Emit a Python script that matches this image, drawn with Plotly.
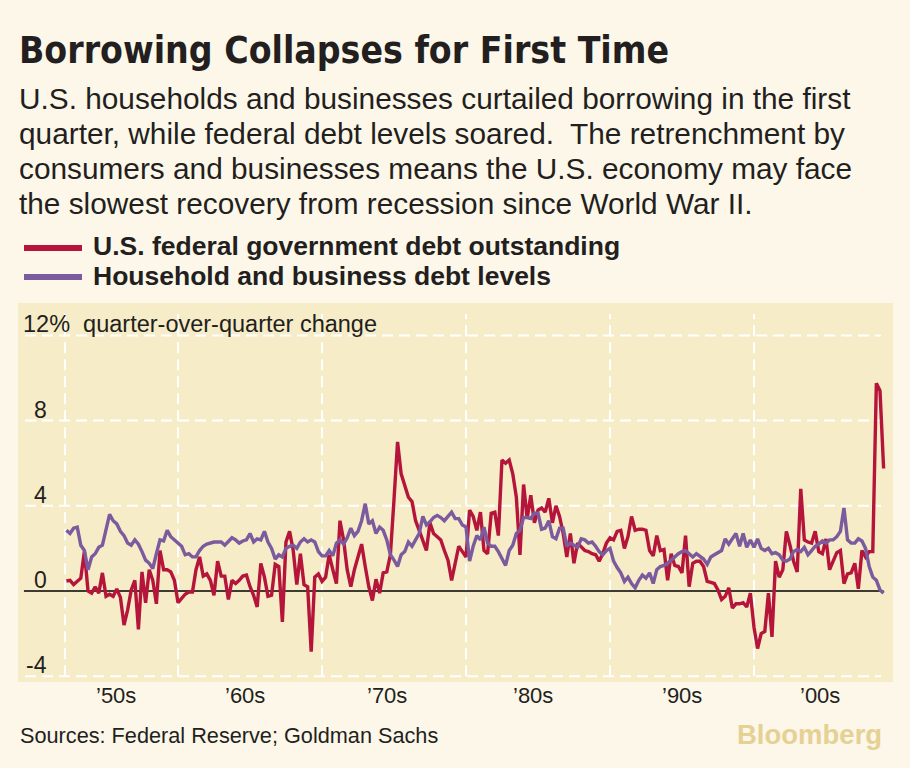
import pandas as pd
import plotly.graph_objects as go

# quarter-over-quarter % change, 1952Q2 .. 2009Q1
quarters = pd.period_range("1952Q2", "2009Q1", freq="Q").to_timestamp()

federal_debt = [
    0.47, 0.5, 0.3, 0.45, 0.6, 1.85, 0.0, -0.1, 0.2, -0.1,
    0.85, -0.25, -0.15, -0.25, 0.1, -0.3, -1.6, -0.9, 0.05, 0.5,
    -1.8, 0.9, -0.55, 1.0, 0.5, -0.6, 1.9, 1.0, 1.0, 0.9,
    0.5, -0.55, -0.35, -0.15, -0.05, -0.05, 1.0, 1.6, 0.7, 0.8,
    0.5, -0.2, 1.4, 0.7, 0.7, -0.4, 0.5, 0.35, 0.5, 0.7,
    0.75, 0.2, -0.2, -0.75, 1.3, 0.65, -0.25, -0.2, 1.25, 1.15,
    -1.45, 2.3, 2.8, 1.9, 0.3, 1.75, 0.3, 0.2, -2.85, 0.65,
    0.8, 0.45, 0.65, 1.7, 1.0, 0.35, 3.3, 2.4, 1.0, 0.2,
    1.0, 1.6, 2.2, 1.15, 0.2, -0.45, 0.55, -0.1, 0.85, 0.9,
    1.7, 4.3, 7.0, 5.5, 5.0, 4.4, 4.2, 3.3, 2.85, 2.4,
    1.9, 3.2, 2.7, 2.55, 2.4, 1.9, 1.45, 0.5, 1.3, 2.1,
    1.85, 1.6, 3.8, 3.5, 2.85, 3.7, 1.9, 1.75, 3.65, 3.7,
    2.6, 6.15, 6.0, 6.15, 5.5, 4.4, 1.7, 5.0, 3.4, 4.5,
    3.2, 3.8, 3.9, 3.7, 4.35, 3.2, 4.0, 3.5, 2.7, 1.6,
    2.7, 1.3, 2.25, 2.1, 1.9, 1.85, 1.75, 1.7, 1.4, 1.75,
    2.25, 2.5, 2.4, 2.8, 2.85, 2.0, 2.55, 3.5, 2.85, 2.9,
    2.9, 2.85, 1.9, 1.65, 2.6, 1.9, 1.95, 0.5, 1.75, 1.2,
    1.15, 0.85, 2.6, 0.2, 1.3, 1.4, 1.4, 1.15, 0.45, 0.4,
    0.35, 0.05, -0.4, -0.25, 0.15, -0.8, -0.6, -0.6, -0.55, -0.75,
    -0.1, -1.7, -2.7, -2.0, -1.9, -0.1, -2.15, 1.4, 0.65, 1.0,
    2.8, 2.15, 1.4, 0.9, 4.8, 2.4, 2.3, 2.25, 2.8, 1.85,
    1.75, 2.45, 1.0, 1.4, 1.8, 1.9, 0.35, 0.8, 0.85, 1.3,
    0.1, 1.9, 1.6, 1.85, 1.85, 9.75, 9.4, 5.75,
]

household_business_debt = [
    2.85, 2.7, 2.95, 3.0, 2.15, 1.9, 1.0, 1.6, 1.75, 2.05,
    2.15, 2.85, 3.6, 3.3, 3.15, 2.8, 2.6, 2.25, 2.15, 2.4,
    2.2, 1.85, 1.45, 1.3, 1.05, 1.75, 2.4, 2.35, 2.85, 2.55,
    2.4, 2.25, 2.1, 1.7, 1.75, 1.6, 1.6, 1.9, 2.1, 2.2,
    2.25, 2.3, 2.3, 2.3, 2.15, 2.35, 2.5, 2.4, 2.25, 2.35,
    2.4, 2.7, 2.3, 2.45, 2.4, 2.8, 2.3, 2.0, 1.5, 1.7,
    1.6, 2.0, 2.1, 2.15, 2.0, 2.3, 2.45, 2.3, 2.4, 2.3,
    1.85, 1.65, 1.65, 1.9, 1.65, 2.25, 2.4, 2.2, 2.5, 2.95,
    2.6, 2.8, 3.3, 4.1, 3.15, 3.3, 2.7, 3.0, 2.85, 2.4,
    1.7, 1.45, 1.15, 1.7, 1.85, 2.3, 2.1, 2.4, 2.7, 3.5,
    3.1, 3.25, 3.45, 3.55, 3.45, 3.3, 3.5, 3.7, 3.4, 3.4,
    3.1, 3.0, 1.4, 2.1, 2.6, 2.4, 3.0, 2.25, 2.1, 2.1,
    1.85, 1.55, 1.2, 1.9, 2.15, 2.7, 2.85, 3.45, 3.45, 3.4,
    3.65, 3.65, 2.9, 2.95, 3.3, 2.55, 2.45, 2.95, 2.95, 2.1,
    2.25, 2.15, 2.05, 2.45, 2.4, 2.25, 2.3, 2.1, 1.85, 1.7,
    1.9, 2.0, 1.4, 1.1, 0.85, 0.45, 0.65, 0.35, 0.15, 0.5,
    0.75, 0.6, 0.85, 0.35, 1.0, 1.15, 1.2, 1.3, 1.45, 1.6,
    1.75, 1.85, 1.9, 1.75, 1.6, 1.75, 1.6, 1.5, 1.25, 1.6,
    1.7, 1.8, 1.9, 2.45, 2.2, 2.45, 2.7, 2.1, 2.7, 2.05,
    2.4, 2.05, 2.45, 2.0, 1.9, 2.0, 1.75, 1.8, 1.7, 1.45,
    1.4, 1.5, 1.85, 1.95, 1.85, 2.05, 1.7, 1.9, 2.1, 2.2,
    2.35, 2.25, 2.4, 2.4, 2.55, 2.8, 3.9, 2.4, 2.25, 2.25,
    2.45, 2.35, 2.0, 1.15, 0.65, 0.5, 0.05, -0.1,
]

series_names = ["U.S. federal government debt outstanding",
                "Household and business debt levels"]
y_ticks = [12, 8, 4, 0, -4]
y_tick_text = ["12%", "8", "4", "0", "-4"]
decade_labels = ["\u201950s", "\u201960s", "\u201970s", "\u201980s", "\u201990s", "\u201900s"]
decade_label_pos = [1955.7, 1964.65, 1974.5, 1984.65, 1995.0, 2004.6]

RED = "#B5143B"
PURPLE = "#7B5A9E"
INK = "#231F20"
PAPER = "#FCF7E9"
PLOT_BG = "#F6ECC7"
FONT = "Liberation Sans, Arial, Helvetica, sans-serif"
NARROW = "Liberation Sans Narrow, Arial Narrow, DejaVu Sans Condensed, sans-serif"

W, H = 910, 768
L, R, T, B = 18, 893, 303, 682   # plot box in pixels
PX_PER_YEAR = 14.4
X1960 = 178


def yr(v):
    # decimal year -> timestamp string
    y = int(v // 1)
    return (pd.Timestamp(year=y, month=1, day=1)
            + pd.Timedelta(days=(v - y) * 365.25)).strftime("%Y-%m-%d")


def fx(p):
    return (p - L) / (R - L)


def fy(p):
    return (B - p) / (B - T)


x_range = [yr(1960 - (X1960 - L) / PX_PER_YEAR), yr(1960 + (R - X1960) / PX_PER_YEAR)]
y_range = [-(B - 591) / 21.3, (591 - T) / 21.3]

fig = go.Figure()
fig.add_trace(go.Scatter(x=quarters, y=federal_debt, name=series_names[0], mode="lines",
                         line=dict(color=RED, width=3.4)))
fig.add_trace(go.Scatter(x=quarters, y=household_business_debt, name=series_names[1], mode="lines",
                         line=dict(color=PURPLE, width=3.4)))

shapes = []
grid = dict(color="white", width=2, dash="11px,6px")
# vertical dashed grid
for v in [1952.15, 1960, 1970, 1980, 1990, 2000]:
    shapes.append(dict(type="line", xref="x", yref="y", x0=yr(v), x1=yr(v), y0=-4, y1=13,
                       line=grid, layer="below"))
# horizontal dashed grid
for v in [-4, 4, 8, 12]:
    shapes.append(dict(type="line", xref="x", yref="y", x0=yr(1949.38), x1=yr(2008.82), y0=v, y1=v,
                       line=grid, layer="below"))
# zero line
shapes.append(dict(type="line", xref="x", yref="y", x0=yr(1949.3), x1=yr(2009.0), y0=0, y1=0,
                   line=dict(color="black", width=1.3), layer="below"))
# legend swatches
for py_, col in [(248, RED), (277, PURPLE)]:
    shapes.append(dict(type="line", xref="paper", yref="paper", x0=fx(24), x1=fx(82),
                       y0=fy(py_), y1=fy(py_), line=dict(color=col, width=6)))

ann = []
# title + subtitle
ann.append(dict(text="<b>Borrowing Collapses for First Time</b>", x=fx(17), y=fy(50),
                font=dict(family=NARROW, size=37, color=INK)))
subtitle = [
    "U.S. households and businesses curtailed borrowing in the first",
    "quarter, while federal debt levels soared.  The retrenchment by",
    "consumers and businesses means the U.S. economy may face",
    "the slowest recovery from recession since World War II.",
]
for i, line in enumerate(subtitle):
    ann.append(dict(text=line, x=fx(17), y=fy(99 + i * 34.7),
                    font=dict(family=FONT, size=29.8, color=INK)))
# legend labels
for i, name in enumerate(series_names):
    ann.append(dict(text="<b>%s</b>" % name, x=fx(91), y=fy(246 + i * 30),
                    font=dict(family=FONT, size=26.5, color=INK)))
# y tick labels
for v, t in zip(y_ticks, y_tick_text):
    if v == 12:
        ann.append(dict(text=t + "  quarter-over-quarter change", xref="paper", x=fx(21), yref="y", y=v,
                        yshift=11, font=dict(family=FONT, size=23.5, color=INK)))
    else:
        ann.append(dict(text=t, xref="paper", x=fx(49), xanchor="right", yref="y", y=v,
                        yshift=11, font=dict(family=FONT, size=23, color=INK)))
# x decade labels
for v, t in zip(decade_label_pos, decade_labels):
    ann.append(dict(text=t, xref="x", x=yr(v), xanchor="center", yref="paper", y=fy(695),
                    font=dict(family=FONT, size=22, color=INK)))
# footer
ann.append(dict(text="Sources: Federal Reserve; Goldman Sachs", x=fx(18), y=fy(735),
                font=dict(family=FONT, size=21.7, color=INK)))
ann.append(dict(text="<b>Bloomberg</b>", x=fx(884), xanchor="right", y=fy(734),
                font=dict(family=FONT, size=27.5, color="#E6D194")))

for a in ann:
    a.setdefault("xref", "paper")
    a.setdefault("yref", "paper")
    a.setdefault("xanchor", "left")
    a.setdefault("yanchor", "middle")
    a["showarrow"] = False

fig.update_layout(
    width=W, height=H, autosize=False,
    margin=dict(l=L, r=W - R, t=T, b=H - B, pad=0),
    paper_bgcolor=PAPER, plot_bgcolor=PLOT_BG,
    showlegend=False,
    shapes=shapes, annotations=ann,
    xaxis=dict(type="date", range=x_range, showgrid=False, zeroline=False,
               showticklabels=False, ticks="", fixedrange=True),
    yaxis=dict(range=y_range, showgrid=False, zeroline=False,
               showticklabels=False, ticks="", fixedrange=True),
)

# drop the browser's default body margin so the figure sits at the window corner
fig.write_html("out.html", config={"displayModeBar": False},
               post_script="document.body.style.margin='0';document.body.style.background='%s';" % PAPER)
